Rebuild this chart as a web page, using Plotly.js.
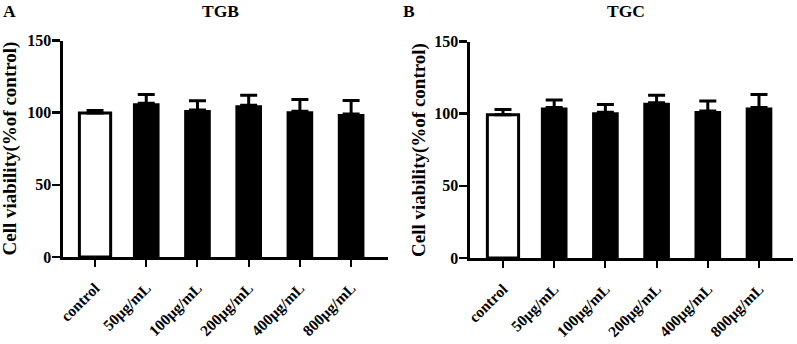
<!DOCTYPE html>
<html>
<head>
<meta charset="utf-8">
<script src="https://cdn.plot.ly/plotly-3.0.1.min.js"></script>
<style>
  html, body { margin: 0; padding: 0; background: #fff; }
  #chart { width: 797px; height: 344px; }
</style>
</head>
<body>
<div id="chart"></div>
<script>
// Cell viability (% of control), mean with upper SD bar
const categories = ['control', '50μg/mL', '100μg/mL', '200μg/mL', '400μg/mL', '800μg/mL'];

const tgbMean = [99.7, 106.6, 101.9, 105.2, 101.0, 99.0];
const tgbErr  = [1.8, 6.0, 6.4, 6.8, 8.2, 9.5];

const tgcMean = [99.3, 104.2, 100.9, 107.6, 101.9, 104.2];
const tgcErr  = [3.6, 5.2, 5.5, 5.2, 6.8, 9.1];

const yTicks = [0, 50, 100, 150];

const W = 797, H = 344;
const serif = 'Liberation Serif, Times New Roman, serif';
const px = v => v / W;
const py = v => 1 - v / H;

function panelTraces(mean, err, xa, ya) {
  const errBar = (arr) => ({
    type: 'data', array: arr, arrayminus: arr.map(() => 0), symmetric: false,
    visible: true, color: '#000', thickness: 3, width: 8.5
  });
  return [
    {
      type: 'bar', x: categories.slice(0, 1), y: mean.slice(0, 1),
      xaxis: xa, yaxis: ya, width: 0.61,
      marker: { color: '#fff', line: { color: '#000', width: 3 } },
      error_y: errBar(err.slice(0, 1)),
      hoverinfo: 'x+y', showlegend: false
    },
    {
      type: 'bar', x: categories.slice(1), y: mean.slice(1),
      xaxis: xa, yaxis: ya, width: 0.52,
      marker: { color: '#000', line: { color: '#000', width: 0 } },
      error_y: errBar(err.slice(1)),
      hoverinfo: 'x+y', showlegend: false
    }
  ];
}

const data = [
  ...panelTraces(tgbMean, tgbErr, 'x', 'y'),
  ...panelTraces(tgcMean, tgcErr, 'x2', 'y2')
];

const tickFont = { family: serif, size: 16, color: '#000', weight: 700 };
const xTickFont = { family: serif, size: 15.5, color: '#000', weight: 700 };

function xAxis(domain, range, anchor) {
  return {
    domain: domain, range: range, anchor: anchor, type: 'category',
    showline: true, linewidth: 3, linecolor: '#000',
    ticks: 'outside', ticklen: 7, tickwidth: 2, tickcolor: '#000',
    tickangle: -45, tickfont: xTickFont, ticklabelstandoff: 6,
    showgrid: false, zeroline: false, fixedrange: true
  };
}
function yAxis(anchor, bottom, top) {
  return {
    domain: [py(bottom), py(top)], range: [0, 150], anchor: anchor,
    tickvals: yTicks, ticktext: yTicks.map(String),
    showline: true, linewidth: 3, linecolor: '#000',
    ticks: 'outside', ticklen: 8, tickwidth: 2.5, tickcolor: '#000',
    tickfont: tickFont, ticklabelstandoff: -3,
    showgrid: false, zeroline: false, fixedrange: true
  };
}

const ann = (text, x, y, size, extra) => Object.assign({
  text: text, x: x, y: y, xref: 'paper', yref: 'paper',
  showarrow: false, xanchor: 'center', yanchor: 'middle',
  font: { family: serif, size: size, color: '#000', weight: 700 }
}, extra || {});

const layout = {
  width: W, height: H,
  margin: { l: 0, r: 0, t: 0, b: 0 },
  paper_bgcolor: '#fff', plot_bgcolor: '#fff',
  barmode: 'overlay', showlegend: false,
  xaxis: xAxis([px(62.5), px(388)], [-0.635, 5.72], 'y'),
  yaxis: yAxis('x', 257, 40.5),
  xaxis2: xAxis([px(469.5), px(793)], [-0.654, 5.664], 'y2'),
  yaxis2: yAxis('x2', 258, 41.5),
  annotations: [
    ann('A', px(9.5), py(11), 17.5),
    ann('B', px(409), py(11), 17.5),
    ann('TGB', px(220.5), py(11), 17.5),
    ann('TGC', px(625.8), py(11), 17.5),
    ann('Cell viability(%of control)', px(9), py(148.5), 19, { textangle: -90 }),
    ann('Cell viability(%of control)', px(419), py(150), 19, { textangle: -90 })
  ]
};

Plotly.newPlot('chart', data, layout, { staticPlot: true, displayModeBar: false });
</script>
</body>
</html>
